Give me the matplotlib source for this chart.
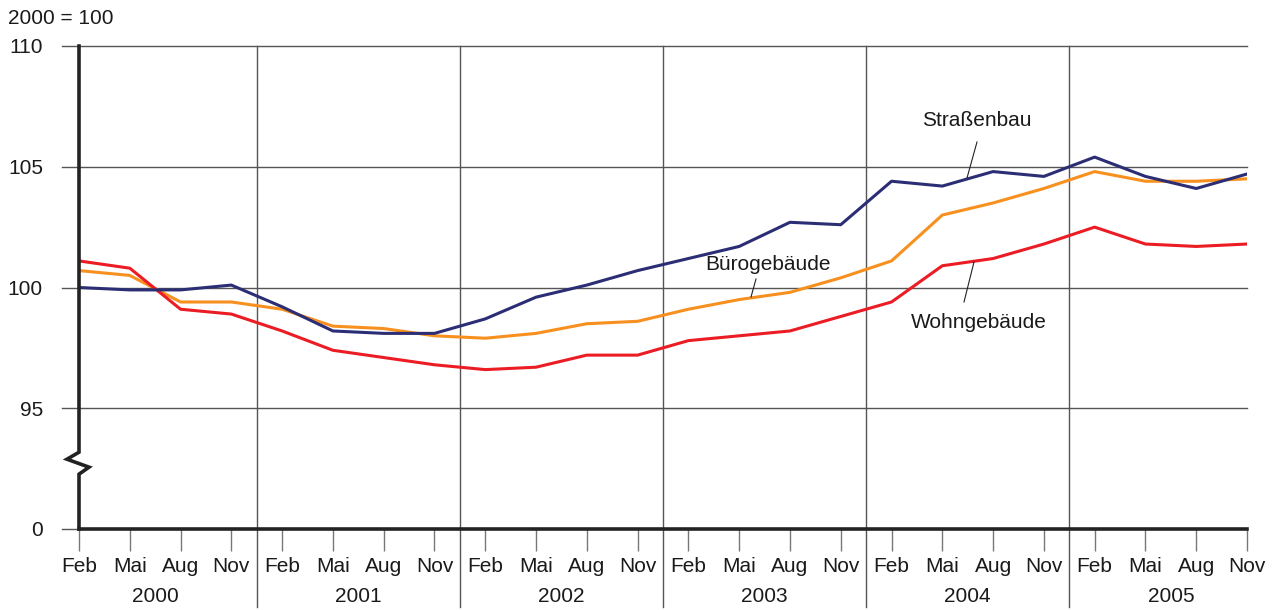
import matplotlib
matplotlib.use("Agg")
import matplotlib.pyplot as plt
import matplotlib.transforms as mtransforms

plt.rcParams["font.family"] = ["Liberation Sans", "DejaVu Sans"]

months = ["Feb", "Mai", "Aug", "Nov"]
years = ["2000", "2001", "2002", "2003", "2004", "2005"]

strassenbau = [100.0, 99.9, 99.9, 100.1, 99.2, 98.2, 98.1, 98.1,
               98.7, 99.6, 100.1, 100.7, 101.2, 101.7, 102.7, 102.6,
               104.4, 104.2, 104.8, 104.6, 105.4, 104.6, 104.1, 104.7]
buero = [100.7, 100.5, 99.4, 99.4, 99.1, 98.4, 98.3, 98.0,
         97.9, 98.1, 98.5, 98.6, 99.1, 99.5, 99.8, 100.4,
         101.1, 103.0, 103.5, 104.1, 104.8, 104.4, 104.4, 104.5]
wohn = [101.1, 100.8, 99.1, 98.9, 98.2, 97.4, 97.1, 96.8,
        96.6, 96.7, 97.2, 97.2, 97.8, 98.0, 98.2, 98.8,
        99.4, 100.9, 101.2, 101.8, 102.5, 101.8, 101.7, 101.8]

ytick_vals = [90, 95, 100, 105, 110]
ytick_labels = ["0", "95", "100", "105", "110"]

NAVY = "#2b2e74"
ORANGE = "#f7901e"
RED = "#ec1c24"
GRID = "#555555"
TXT = "#1a1a1a"
FS = 15

W, H = 1277, 610
fig = plt.figure(figsize=(W / 100, H / 100), dpi=100)
ax = fig.add_axes([79 / W, (H - 529) / H, (1247 - 79) / W, (529 - 46) / H])

x = list(range(len(strassenbau)))
ax.set_xlim(0, len(x) - 1)
ax.set_ylim(90, 110)

for s in ax.spines.values():
    s.set_visible(False)

# horizontal grid, a little past the left axis
blend = mtransforms.blended_transform_factory(ax.transAxes, ax.transData)
left_ext = -17 / (1247 - 79)
for v in ytick_vals[1:]:
    ax.plot([left_ext, 1], [v, v], transform=blend, color=GRID, lw=1, clip_on=False, zorder=1)
ax.plot([left_ext, 0], [90, 90], transform=blend, color=GRID, lw=1, clip_on=False, zorder=1)
ax.plot([0, 1], [90, 90], transform=blend, color="#222222", lw=2.6, clip_on=False, zorder=4)

# year separators, down through the labels
vblend = mtransforms.blended_transform_factory(ax.transData, ax.transAxes)
bottom_ext = -(607 - 529) / (529 - 46)
for k in range(1, len(years)):
    xs = 4 * k - 0.5
    ax.plot([xs, xs], [bottom_ext, 1], transform=vblend, color=GRID, lw=1, clip_on=False, zorder=1)

# left axis with break mark
px = (len(x) - 1) / (1247 - 79)
zx = [0, 0, -12 * px, 10 * px, 0, 0]
zy = [110, 93.18, 92.89, 92.56, 92.27, 90]
ax.plot(zx, zy, color="#222222", lw=2.6, clip_on=False, zorder=4, solid_joinstyle="miter")

ax.plot(x, buero, color=ORANGE, lw=2.2, zorder=3)
ax.plot(x, wohn, color=RED, lw=2.2, zorder=3)
ax.plot(x, strassenbau, color=NAVY, lw=2.2, zorder=3)

ax.set_yticks(ytick_vals)
ax.set_yticklabels(ytick_labels, fontsize=FS, color=TXT)
ax.tick_params(axis="y", length=0, pad=26)
ax.set_xticks(x)
ax.set_xticklabels([])
ax.tick_params(axis="x", length=16, width=1, color="#777777", direction="out")

lab_tr = mtransforms.blended_transform_factory(ax.transData, fig.transFigure)
for i in x:
    ax.text(i, (H - 567) / H, months[i % 4], transform=lab_tr, ha="center", va="center",
            fontsize=FS, color=TXT)
for k, yr in enumerate(years):
    ax.text(4 * k + 1.5, (H - 597) / H, yr, transform=lab_tr, ha="center", va="center",
            fontsize=FS, color=TXT)

fig.text(8 / W, (H - 18) / H, "2000 = 100", ha="left", va="center", fontsize=FS, color=TXT)

# series labels with leader lines (pixel positions)
for text, tx, ty, l0, l1 in [
    ("Straßenbau", 977, 121, (977, 142), (967, 178)),
    ("Bürogebäude", 768, 265, (756, 279), (751, 297)),
    ("Wohngebäude", 979, 323, (974, 262), (964, 302)),
]:
    fig.text(tx / W, (H - ty) / H, text, ha="center", va="center", fontsize=FS, color=TXT)
    fig.add_artist(plt.Line2D([l0[0] / W, l1[0] / W], [(H - l0[1]) / H, (H - l1[1]) / H],
                              transform=fig.transFigure, color="#222222", lw=0.8))

fig.savefig("out.png", dpi=100)
